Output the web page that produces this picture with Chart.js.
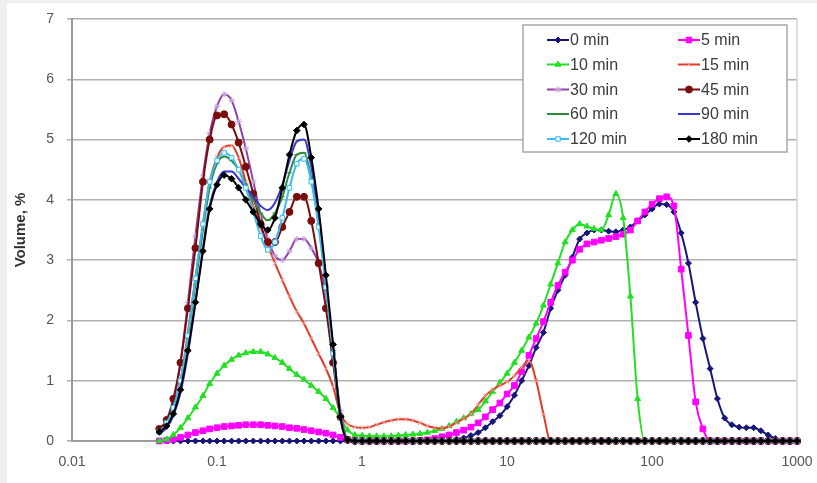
<!DOCTYPE html>
<html>
<head>
<meta charset="utf-8">
<script src="https://cdn.jsdelivr.net/npm/chart.js@4.4.1/dist/chart.umd.min.js"></script>
<style>
html,body{margin:0;padding:0;background:#ffffff;}
canvas{display:block;}
</style>
</head>
<body>
<canvas id="c" width="817" height="483"></canvas>
<script>
// Particle size classes (µm)
const sizes = [
0.040,0.045,0.050,0.056,0.063,0.071,0.080,0.089,0.100,0.112,
0.126,0.141,0.158,0.178,0.200,0.224,0.251,0.282,0.316,0.355,
0.398,0.447,0.502,0.564,0.632,0.710,0.796,0.893,1.002,1.125,
1.262,1.416,1.589,1.783,2.000,2.244,2.518,2.825,3.170,3.557,
3.991,4.477,5.024,5.637,6.325,7.096,7.962,8.934,10.02,11.25,
12.62,14.16,15.89,17.83,20.00,22.44,25.18,28.25,31.70,35.57,
39.91,44.77,50.24,56.37,63.25,70.96,79.62,89.34,100.2,112.5,
126.2,141.6,158.9,178.3,200.0,224.4,251.8,282.5,317.0,355.7,
399.1,447.7,502.4,563.7,632.5,709.6,796.2,893.4,1002];

const xTicks = [0.01,0.1,1,10,100,1000];
const xTickLabels = ["0.01","0.1","1","10","100","1000"];
const seriesNames = ["0 min","5 min","10 min","15 min","30 min","45 min","60 min","90 min","120 min","180 min"];

const min0 = [
0,0,0,0,0,0,0,0,0,0,
0,0,0,0,0,0,0,0,0,0,
0,0,0,0,0,0,0,0,0,0,
0,0,0,0,0,0,0,0,0,0,
0.01,0.03,0.05,0.09,0.14,0.22,0.32,0.42,0.57,0.76,
1.0,1.25,1.55,1.8,2.2,2.5,2.75,3.05,3.35,3.45,
3.5,3.5,3.48,3.47,3.5,3.55,3.65,3.75,3.85,3.93,
3.92,3.8,3.45,2.95,2.3,1.7,1.2,0.7,0.38,0.27,
0.23,0.22,0.22,0.17,0.1,0.04,0,0,0];

const min5 = [
0,0.01,0.03,0.06,0.1,0.14,0.17,0.2,0.22,0.24,
0.25,0.26,0.27,0.27,0.27,0.26,0.25,0.24,0.22,0.21,
0.19,0.17,0.15,0.13,0.1,0.06,0.02,0.01,0,0,
0,0,0,0,0,0,0.01,0.02,0.04,0.07,
0.1,0.14,0.18,0.23,0.3,0.4,0.52,0.63,0.78,0.92,
1.15,1.42,1.7,1.98,2.3,2.58,2.8,3.0,3.18,3.27,
3.3,3.33,3.36,3.39,3.43,3.5,3.65,3.8,3.93,4.02,
4.05,3.9,2.85,1.75,0.65,0.2,0,0,0,0,
0,0,0,0,0,0,0,0,0];

const min10 = [
0.0,0.03,0.1,0.22,0.38,0.56,0.75,0.95,1.12,1.25,
1.35,1.42,1.46,1.48,1.48,1.44,1.38,1.3,1.2,1.1,
1.02,0.92,0.82,0.7,0.55,0.38,0.18,0.1,0.09,0.08,
0.08,0.08,0.08,0.09,0.1,0.11,0.12,0.14,0.17,0.2,
0.25,0.32,0.38,0.45,0.52,0.66,0.82,0.97,1.12,1.3,
1.5,1.72,1.95,2.25,2.6,2.95,3.3,3.5,3.6,3.56,
3.52,3.5,3.75,4.1,3.7,2.4,0.7,0,0,0,
0,0,0,0,0,0,0,0,0,0,
0,0,0,0,0,0,0,0,0];

const min15 = [
0.15,0.3,0.55,1.0,1.8,2.7,3.6,4.3,4.7,4.88,
4.9,4.7,4.3,3.9,3.55,3.25,2.95,2.67,2.4,2.15,
1.95,1.7,1.45,1.2,0.9,0.45,0.28,0.23,0.22,0.23,
0.27,0.31,0.34,0.36,0.36,0.34,0.3,0.25,0.22,0.21,
0.24,0.3,0.37,0.45,0.6,0.75,0.85,0.92,0.98,1.08,
1.22,1.33,1.0,0.45,0,0,0,0,0,0,
0,0,0,0,0,0,0,0,0,0,
0,0,0,0,0,0,0,0,0,0,
0,0,0,0,0,0,0,0,0];

const min30 = [
0.15,0.3,0.65,1.3,2.3,3.4,4.4,5.1,5.55,5.75,
5.65,5.3,4.85,4.3,3.75,3.35,3.07,3.0,3.15,3.35,
3.35,3.2,2.95,2.45,1.5,0.5,0.03,0,0,0,
0,0,0,0,0,0,0,0,0,0,
0,0,0,0,0,0,0,0,0,0,
0,0,0,0,0,0,0,0,0,0,
0,0,0,0,0,0,0,0,0,0,
0,0,0,0,0,0,0,0,0,0,
0,0,0,0,0,0,0,0,0];

const min45 = [
0.2,0.35,0.7,1.3,2.2,3.2,4.3,5.0,5.4,5.42,
5.25,4.95,4.55,4.1,3.6,3.3,3.3,3.55,3.8,4.05,
4.05,3.65,2.95,2.2,1.3,0.4,0.02,0,0,0,
0,0,0,0,0,0,0,0,0,0,
0,0,0,0,0,0,0,0,0,0,
0,0,0,0,0,0,0,0,0,0,
0,0,0,0,0,0,0,0,0,0,
0,0,0,0,0,0,0,0,0,0,
0,0,0,0,0,0,0,0,0];

const min60 = [
0.12,0.25,0.5,0.95,1.7,2.6,3.5,4.2,4.6,4.72,
4.65,4.5,4.25,4.0,3.78,3.66,3.78,4.05,4.45,4.75,
4.78,4.35,3.6,2.6,1.5,0.4,0.02,0,0,0,
0,0,0,0,0,0,0,0,0,0,
0,0,0,0,0,0,0,0,0,0,
0,0,0,0,0,0,0,0,0,0,
0,0,0,0,0,0,0,0,0,0,
0,0,0,0,0,0,0,0,0,0,
0,0,0,0,0,0,0,0,0];

const min90 = [
0.12,0.22,0.42,0.8,1.45,2.3,3.2,3.9,4.3,4.47,
4.47,4.35,4.2,4.05,3.9,3.83,3.95,4.25,4.65,4.97,
5.0,4.55,3.75,2.65,1.55,0.4,0.02,0,0,0,
0,0,0,0,0,0,0,0,0,0,
0,0,0,0,0,0,0,0,0,0,
0,0,0,0,0,0,0,0,0,0,
0,0,0,0,0,0,0,0,0,0,
0,0,0,0,0,0,0,0,0,0,
0,0,0,0,0,0,0,0,0];

const min120 = [
0.15,0.3,0.55,1.0,1.75,2.7,3.6,4.3,4.65,4.78,
4.7,4.5,4.2,3.8,3.4,3.17,3.3,3.7,4.2,4.6,
4.68,4.3,3.55,2.55,1.45,0.4,0.02,0,0,0,
0,0,0,0,0,0,0,0,0,0,
0,0,0,0,0,0,0,0,0,0,
0,0,0,0,0,0,0,0,0,0,
0,0,0,0,0,0,0,0,0,0,
0,0,0,0,0,0,0,0,0,0,
0,0,0,0,0,0,0,0,0];

const min180 = [
0.15,0.25,0.45,0.85,1.5,2.3,3.15,3.85,4.25,4.41,
4.35,4.2,4.0,3.8,3.6,3.5,3.7,4.2,4.75,5.15,
5.25,4.7,3.85,2.75,1.6,0.4,0.02,0,0,0,
0,0,0,0,0,0,0,0,0,0,
0,0,0,0,0,0,0,0,0,0,
0,0,0,0,0,0,0,0,0,0,
0,0,0,0,0,0,0,0,0,0,
0,0,0,0,0,0,0,0,0,0,
0,0,0,0,0,0,0,0,0];

const seriesValues = [min0,min5,min10,min15,min30,min45,min60,min90,min120,min180];

const styles = [
  {line:'#16167a', ps:'rectRot', r:3, bg:'#16167a', bc:'#16167a'},
  {line:'#ff00ff', ps:'rect', r:4, bg:'#ff00ff', bc:'#ff00ff'},
  {line:'#22e022', ps:'triangle', r:3.4, bg:'#22e022', bc:'#22e022'},
  {line:'#e33a26', ps:'crossRot', r:3, bg:'#f2a0a0', bc:'#f2a0a0'},
  {line:'#9040a8', ps:'star', r:3.2, bg:'#d8b8e8', bc:'#c8a0dc'},
  {line:'#7a0c0c', ps:'circle', r:3.5, bg:'#7a0c0c', bc:'#7a0c0c'},
  {line:'#2e8b3a', ps:'line', r:2.5, bg:'#2e8b3a', bc:'#2e8b3a'},
  {line:'#3535d0', ps:'circle', r:0, bg:'#3535d0', bc:'#3535d0'},
  {line:'#38bdf0', ps:'rect', r:3.2, bg:'#e8f8ff', bc:'#38bdf0'},
  {line:'#000000', ps:'rectRot', r:3.3, bg:'#000000', bc:'#000000'}
];

const datasets = seriesValues.map((arr, k) => ({
  label: seriesNames[k],
  data: sizes.map((s, i) => ({x: s, y: arr[i]})),
  borderColor: styles[k].line,
  backgroundColor: styles[k].bg,
  borderWidth: 2,
  pointStyle: styles[k].ps,
  pointRadius: styles[k].r,
  pointBackgroundColor: styles[k].bg,
  pointBorderColor: styles[k].bc,
  pointBorderWidth: 1,
  cubicInterpolationMode: 'monotone',
  fill: false,
  clip: 8,
  order: 10 - k
}));

const bgPlugin = {
  id: 'bg',
  beforeDraw(chart) {
    const ctx = chart.ctx;
    ctx.save();
    ctx.fillStyle = '#efefef';
    ctx.fillRect(0, 0, chart.width, chart.height);
    ctx.fillStyle = '#ffffff';
    ctx.fillRect(7, 3, chart.width - 7, chart.height - 3);
    ctx.restore();
  },
  beforeDatasetsDraw(chart) {
    const ctx = chart.ctx, a = chart.chartArea;
    ctx.save();
    ctx.strokeStyle = '#d4d4d4';
    ctx.lineWidth = 1.5;
    ctx.beginPath();
    ctx.moveTo(a.right, a.top);
    ctx.lineTo(a.right, a.bottom);
    ctx.stroke();
    ctx.restore();
  }
};

const legendPlugin = {
  id: 'boxLegend',
  afterDraw(chart) {
    const ctx = chart.ctx;
    const bx = 523, by = 25, bw = 264, bh = 127;
    ctx.save();
    ctx.fillStyle = '#ffffff';
    ctx.fillRect(bx, by, bw, bh);
    ctx.strokeStyle = '#a8a8a8';
    ctx.lineWidth = 1.5;
    ctx.strokeRect(bx, by, bw, bh);
    ctx.font = '16px "Liberation Sans", Arial, sans-serif';
    ctx.textBaseline = 'middle';
    ctx.textAlign = 'left';
    const cols = [547, 678];
    const rows = [40, 64.5, 89.5, 114, 139];
    datasets.forEach((d, k) => {
      const cx = cols[k % 2], cy = rows[Math.floor(k / 2)];
      ctx.strokeStyle = d.borderColor;
      ctx.lineWidth = 2;
      ctx.beginPath();
      ctx.moveTo(cx, cy);
      ctx.lineTo(cx + 22, cy);
      ctx.stroke();
      if (d.pointRadius > 0) {
        ctx.fillStyle = d.pointBackgroundColor;
        ctx.strokeStyle = d.pointBorderColor;
        ctx.lineWidth = 1;
        Chart.helpers.drawPoint(ctx, {pointStyle: d.pointStyle, radius: d.pointRadius, rotation: 0, borderWidth: 1}, cx + 11, cy);
      }
      ctx.fillStyle = '#3a3a3a';
      ctx.fillText(d.label, cx + 23, cy + 1);
    });
    ctx.restore();
  }
};

new Chart(document.getElementById('c'), {
  type: 'line',
  data: { datasets },
  plugins: [bgPlugin, legendPlugin],
  options: {
    responsive: false,
    animation: false,
    devicePixelRatio: 1,
    layout: { padding: { top: 19, right: 20, bottom: 0, left: 0 } },
    plugins: { legend: { display: false }, tooltip: { enabled: false } },
    scales: {
      x: {
        type: 'logarithmic',
        min: 0.01,
        max: 1000,
        afterBuildTicks(scale) { scale.ticks = xTicks.map(v => ({ value: v })); },
        afterFit(scale) { scale.height = 42; scale.paddingLeft = 0; scale.paddingRight = 0; },
        grid: { display: false, drawTicks: false },
        border: { display: true, color: '#9a9a9a', width: 2 },
        ticks: {
          padding: 13,
          autoSkip: false,
          maxRotation: 0,
          color: '#555555',
          font: { family: '"Liberation Sans", Arial, sans-serif', size: 14 },
          callback(v) { const i = xTicks.indexOf(v); return i >= 0 ? xTickLabels[i] : ''; }
        }
      },
      y: {
        min: 0,
        max: 7,
        afterFit(scale) { scale.width = 72; scale.paddingTop = 0; scale.paddingBottom = 0; },
        grid: { color: '#b0b0b0', lineWidth: 1.5, tickLength: 5, drawTicks: true },
        border: { display: true, color: '#9a9a9a', width: 2 },
        ticks: {
          stepSize: 1,
          padding: 13,
          color: '#555555',
          font: { family: '"Liberation Sans", Arial, sans-serif', size: 14 }
        },
        title: {
          display: true,
          text: 'Volume, %',
          color: '#333333',
          padding: { top: 12, bottom: 0 },
          font: { family: '"Liberation Sans", Arial, sans-serif', size: 15, weight: 'bold' }
        }
      }
    }
  }
});
</script>
</body>
</html>
